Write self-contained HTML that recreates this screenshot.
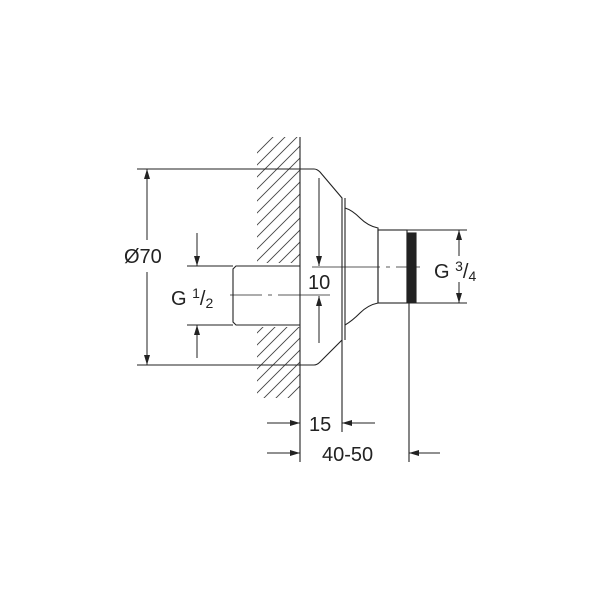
<!DOCTYPE html><html><head><style>body{margin:0;background:#fff}svg{display:block}</style></head><body>
<svg width="600" height="600" viewBox="0 0 600 600" xmlns="http://www.w3.org/2000/svg" font-family="Liberation Sans, sans-serif">
<defs>
<clipPath id="c1"><rect x="257" y="137" width="43" height="126"/></clipPath>
<clipPath id="c2"><rect x="257" y="327" width="43" height="71"/></clipPath>
<marker id="a" viewBox="0 0 10 6" refX="10" refY="3" markerWidth="10" markerHeight="6" markerUnits="userSpaceOnUse" orient="auto"><path d="M0,0L10,3L0,6z" fill="#222"/></marker>
</defs>
<g stroke="#444" stroke-width="0.9">
<g clip-path="url(#c1)"><path d="M240,290 l80,-80 M240,278 l80,-80 M240,266 l80,-80 M240,254 l80,-80 M240,242 l80,-80 M240,230 l80,-80 M240,218 l80,-80 M240,206 l80,-80 M240,194 l80,-80 M240,182 l80,-80 M240,170 l80,-80 M240,302 l80,-80 M240,314 l80,-80 M240,326 l80,-80"/></g>
<g clip-path="url(#c2)"><path d="M240,350 l80,-80 M240,362 l80,-80 M240,374 l80,-80 M240,386 l80,-80 M240,398 l80,-80 M240,410 l80,-80 M240,422 l80,-80 M240,434 l80,-80 M240,446 l80,-80"/></g>
</g>
<g stroke="#222" stroke-width="1.1" fill="none">
<line x1="300" y1="137" x2="300" y2="462"/>
<path d="M300,169 H314 Q317,169 320,172 L342,198 V340 L320,362 Q317,365 314,365 H300"/>
<line x1="345" y1="198" x2="345" y2="340"/>
<path d="M345,208 Q352,210 360,218 Q368,226 378,228 V303 Q368,305 360,313 Q352,321 345,325"/>
<rect x="378" y="230" width="29" height="73"/>
<rect x="407" y="233" width="9" height="69" fill="#222"/>
<path d="M300,266 H236 L233,269 V322 L236,325 H300"/>
<path d="M137,169 H300 M137,365 H300 M187,266 H233 M187,325 H233 M407,230 H467 M407,303 H467"/>
<line x1="342" y1="340" x2="342" y2="432"/>
<line x1="409" y1="303" x2="409" y2="462"/>
</g>
<g stroke="#222" stroke-width="0.8" fill="none">
<path d="M230,295 H262 M268,295 H272 M278,295 H330" />
<path d="M312,267 H380 M386,267 H390 M396,267 H420"/>
</g>
<g stroke="#222" stroke-width="1" marker-end="url(#a)">
<line x1="147" y1="240" x2="147" y2="169"/>
<line x1="147" y1="272" x2="147" y2="365"/>
<line x1="197" y1="233" x2="197" y2="266"/>
<line x1="197" y1="358" x2="197" y2="325"/>
<line x1="319" y1="178" x2="319" y2="266"/>
<line x1="319" y1="343" x2="319" y2="296"/>
<line x1="459" y1="256" x2="459" y2="230"/>
<line x1="459" y1="282" x2="459" y2="303"/>
<line x1="267" y1="423" x2="300" y2="423"/>
<line x1="375" y1="423" x2="342" y2="423"/>
<line x1="267" y1="453" x2="300" y2="453"/>
<line x1="440" y1="453" x2="409" y2="453"/>
</g>
<rect x="308" y="270" width="24" height="20" fill="#fff"/>
<g fill="#222" font-size="20">
<text x="124" y="263">Ø70</text>
<text x="308" y="289">10</text>
<text x="171" y="305">G <tspan font-size="14" dy="-7">1</tspan><tspan dy="7">/</tspan><tspan font-size="14" dy="3">2</tspan></text>
<text x="434" y="278">G <tspan font-size="14" dy="-7">3</tspan><tspan dy="7">/</tspan><tspan font-size="14" dy="3">4</tspan></text>
<text x="309" y="431">15</text>
<text x="322" y="461">40-50</text>
</g>
</svg>
</body></html>
